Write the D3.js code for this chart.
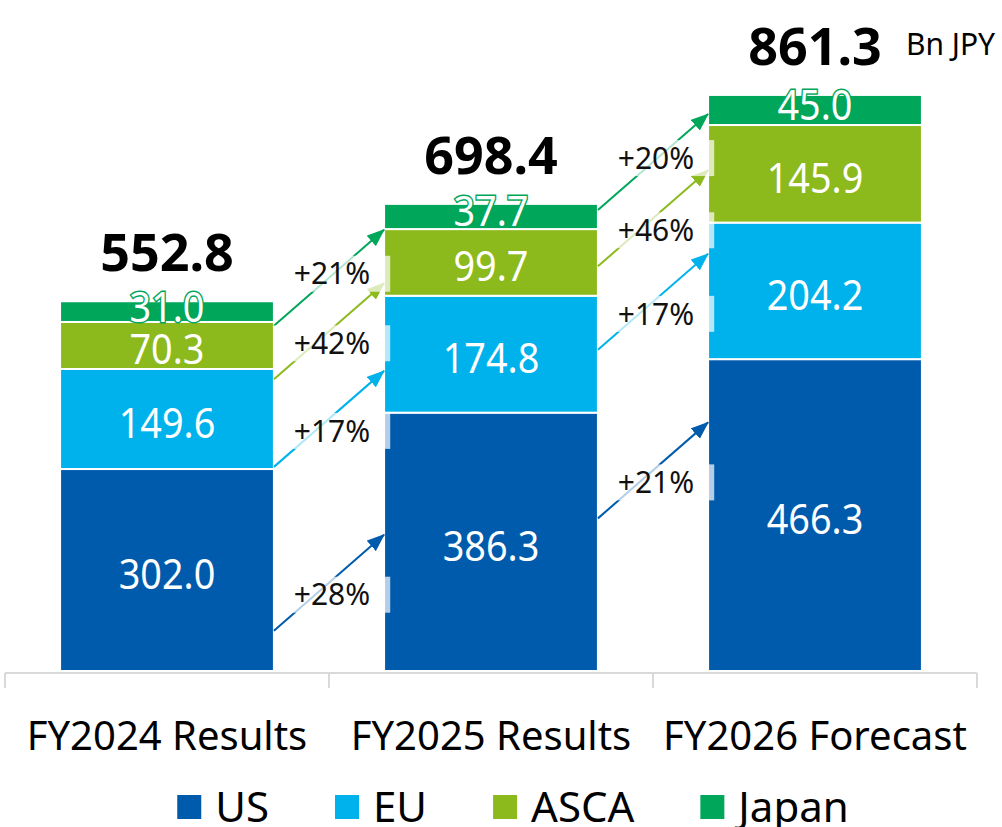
<!DOCTYPE html>
<html>
<head>
<meta charset="utf-8">
<script src="https://cdn.jsdelivr.net/npm/d3@7"></script>
<style>
  body { margin: 0; background: #fff; }
  svg { display: block; font-family: "Segoe UI", "Noto Sans", sans-serif; }
</style>
</head>
<body>
<svg></svg>
<script>
// chart values (Bn JPY)
var categories = ["FY2024 Results", "FY2025 Results", "FY2026 Forecast"];
var regions = ["US", "EU", "ASCA", "Japan"];
var us = [302.0, 386.3, 466.3];
var eu = [149.6, 174.8, 204.2];
var asca = [70.3, 99.7, 145.9];
var japan = [31.0, 37.7, 45.0];
var totals = [552.8, 698.4, 861.3];
var unit = "Bn JPY";

// growth labels as printed (US, EU, ASCA, Japan)
var growth12 = ["+28%", "+17%", "+42%", "+21%"];
var growth23 = ["+21%", "+17%", "+46%", "+20%"];

// level (in Bn JPY) where each growth arrow crosses the gap, per region
var arrowLevel12 = [132, 377, 508, 588];
var arrowLevel23 = [300, 552, 677, 761];

var colors = ["#005bac", "#00b2ec", "#8cb91c", "#00a65a"];

var config = {
  w: 1002,
  h: 827,
  left: 5,
  right: 977,
  base: 671,
  top: 95
};

var series = [us, eu, asca, japan];

var svg = d3.select("svg")
  .attr("width", config.w)
  .attr("height", config.h);

var x = d3.scaleBand()
  .domain(categories)
  .range([config.left, config.right])
  .paddingInner(0.34)
  .paddingOuter(0.17);

var y = d3.scaleLinear()
  .domain([0, d3.max(totals)])
  .range([config.base, config.top]);

var color = d3.scaleOrdinal().domain(regions).range(colors);

// build stack from the arrays
var table = categories.map(function(c, i) {
  var row = {cat: c};
  regions.forEach(function(r, k) { row[r] = series[k][i]; });
  return row;
});
var stacked = d3.stack().keys(regions)(table);

// bars
var g = svg.append("g");
stacked.forEach(function(layer) {
  g.selectAll(null)
    .data(layer)
    .enter()
    .append("rect")
      .attr("x", function(d) { return x(d.data.cat); })
      .attr("y", function(d) { return y(d[1]); })
      .attr("width", x.bandwidth())
      .attr("height", function(d) { return y(d[0]) - y(d[1]); })
      .attr("fill", color(layer.key))
      .attr("stroke", "#fff")
      .attr("stroke-width", 2);
});

// axis line with ticks at band edges
var step = x.step();
var edges = d3.range(categories.length + 1).map(function(i) {
  return x(categories[0]) - step * x.paddingInner() / 2 + i * step;
});
svg.append("line")
  .attr("x1", edges[0]).attr("x2", edges[edges.length - 1])
  .attr("y1", config.base + 2).attr("y2", config.base + 2)
  .attr("stroke", "#d9d9d9").attr("stroke-width", 2);
svg.selectAll(".tick")
  .data(edges)
  .enter()
  .append("line")
    .attr("class", "tick")
    .attr("x1", function(d) { return d; }).attr("x2", function(d) { return d; })
    .attr("y1", config.base + 2).attr("y2", config.base + 17)
    .attr("stroke", "#d9d9d9").attr("stroke-width", 2);

// segment labels
var segFont = 42;
stacked.forEach(function(layer, k) {
  var top = layer.key == "Japan";
  g.selectAll(null)
    .data(layer)
    .enter()
    .append("text")
      .attr("transform", function(d) {
        var cx = x(d.data.cat) + x.bandwidth() / 2;
        var cy = (y(d[0]) + y(d[1])) / 2 + (top ? 10 : 19);
        return "translate(" + cx + "," + cy + ") scale(0.9,1)";
      })
      .attr("text-anchor", "middle")
      .attr("font-size", segFont)
      .attr("fill", "#fff")
      .attr("stroke", top ? color(layer.key) : "none")
      .attr("stroke-width", top ? 3 : 0)
      .style("paint-order", "stroke")
      .text(function(d) { return d3.format(".1f")(d[1] - d[0]); });
});

// totals
svg.selectAll(".total")
  .data(totals)
  .enter()
  .append("text")
    .attr("class", "total")
    .attr("x", function(d, i) { return x(categories[i]) + x.bandwidth() / 2; })
    .attr("y", function(d) { return y(d) - 30; })
    .attr("text-anchor", "middle")
    .attr("font-size", 52)
    .attr("font-weight", "bold")
    .attr("fill", "#000")
    .text(function(d) { return d3.format(".1f")(d); });

var last = categories.length - 1;
svg.append("text")
  .attr("x", x(categories[last]) + x.bandwidth() - 16)
  .attr("y", y(totals[last]) - 40)
  .attr("font-size", 30)
  .attr("fill", "#000")
  .text(unit);

// arrow heads, one per region colour
var defs = svg.append("defs");
regions.forEach(function(r, k) {
  defs.append("marker")
    .attr("id", "head" + k)
    .attr("markerUnits", "userSpaceOnUse")
    .attr("markerWidth", 18)
    .attr("markerHeight", 14)
    .attr("refX", 17)
    .attr("refY", 7)
    .attr("orient", "auto")
    .append("path")
      .attr("d", "M0,0 L18,7 L0,14 Z")
      .attr("fill", color(r));
});

// growth arrows between neighbouring bars
var rise = 96;
var growth = [];
[[arrowLevel12, growth12], [arrowLevel23, growth23]].forEach(function(pair, i) {
  var levels = pair[0];
  var x0 = x(categories[i]) + x.bandwidth();
  var x1 = x(categories[i + 1]);
  regions.forEach(function(r, k) {
    var mid = y(levels[k]);
    growth.push({
      k: k,
      x0: x0, x1: x1,
      y0: mid + rise / 2, y1: mid - rise / 2,
      ly: mid + (r == "Japan" ? -4 : 12),
      cx: (x0 + x1) / 2 + 3,
      label: pair[1][k]
    });
  });
});

var ga = svg.append("g");
ga.selectAll("line")
  .data(growth)
  .enter()
  .append("line")
    .attr("x1", function(d) { return d.x0; })
    .attr("y1", function(d) { return d.y0; })
    .attr("x2", function(d) { return d.x1; })
    .attr("y2", function(d) { return d.y1; })
    .attr("stroke", function(d) { return colors[d.k]; })
    .attr("stroke-width", 2)
    .attr("marker-end", function(d) { return "url(#head" + d.k + ")"; });

var pctFont = 30;
var labels = ga.selectAll(".pct")
  .data(growth)
  .enter()
  .append("g")
    .attr("class", "pct")
    .attr("transform", function(d) { return "translate(" + d.cx + "," + d.ly + ")"; });

labels.append("text")
  .attr("text-anchor", "middle")
  .attr("y", pctFont * 0.357)
  .attr("font-size", pctFont)
  .attr("fill", "#111")
  .text(function(d) { return d.label; });

// translucent box behind each label
labels.each(function() {
  var grp = d3.select(this);
  var b = grp.select("text").node().getBBox();
  grp.insert("rect", "text")
    .attr("x", b.x - 20)
    .attr("y", -18)
    .attr("width", b.width + 40)
    .attr("height", 36)
    .attr("fill", "#fff")
    .attr("fill-opacity", 0.7);
});

// category labels
svg.selectAll(".cat")
  .data(categories)
  .enter()
  .append("text")
    .attr("class", "cat")
    .attr("x", function(d) { return x(d) + x.bandwidth() / 2; })
    .attr("y", 750)
    .attr("text-anchor", "middle")
    .attr("font-size", 40)
    .attr("fill", "#000")
    .text(function(d) { return d; });

// legend
var legend = svg.append("g");
var lx = 0;
regions.forEach(function(r, k) {
  var item = legend.append("g").attr("transform", "translate(" + lx + ",0)");
  item.append("rect")
    .attr("x", 0).attr("y", 795)
    .attr("width", 24).attr("height", 24)
    .attr("fill", color(r));
  var t = item.append("text")
    .attr("x", 38).attr("y", 822)
    .attr("font-size", 42)
    .attr("fill", "#000")
    .text(r);
  lx += 38 + t.node().getComputedTextLength() + 66;
});
var lw = lx - 66;
legend.attr("transform", "translate(" + (513 - lw / 2) + ",0)");
</script>
</body>
</html>
